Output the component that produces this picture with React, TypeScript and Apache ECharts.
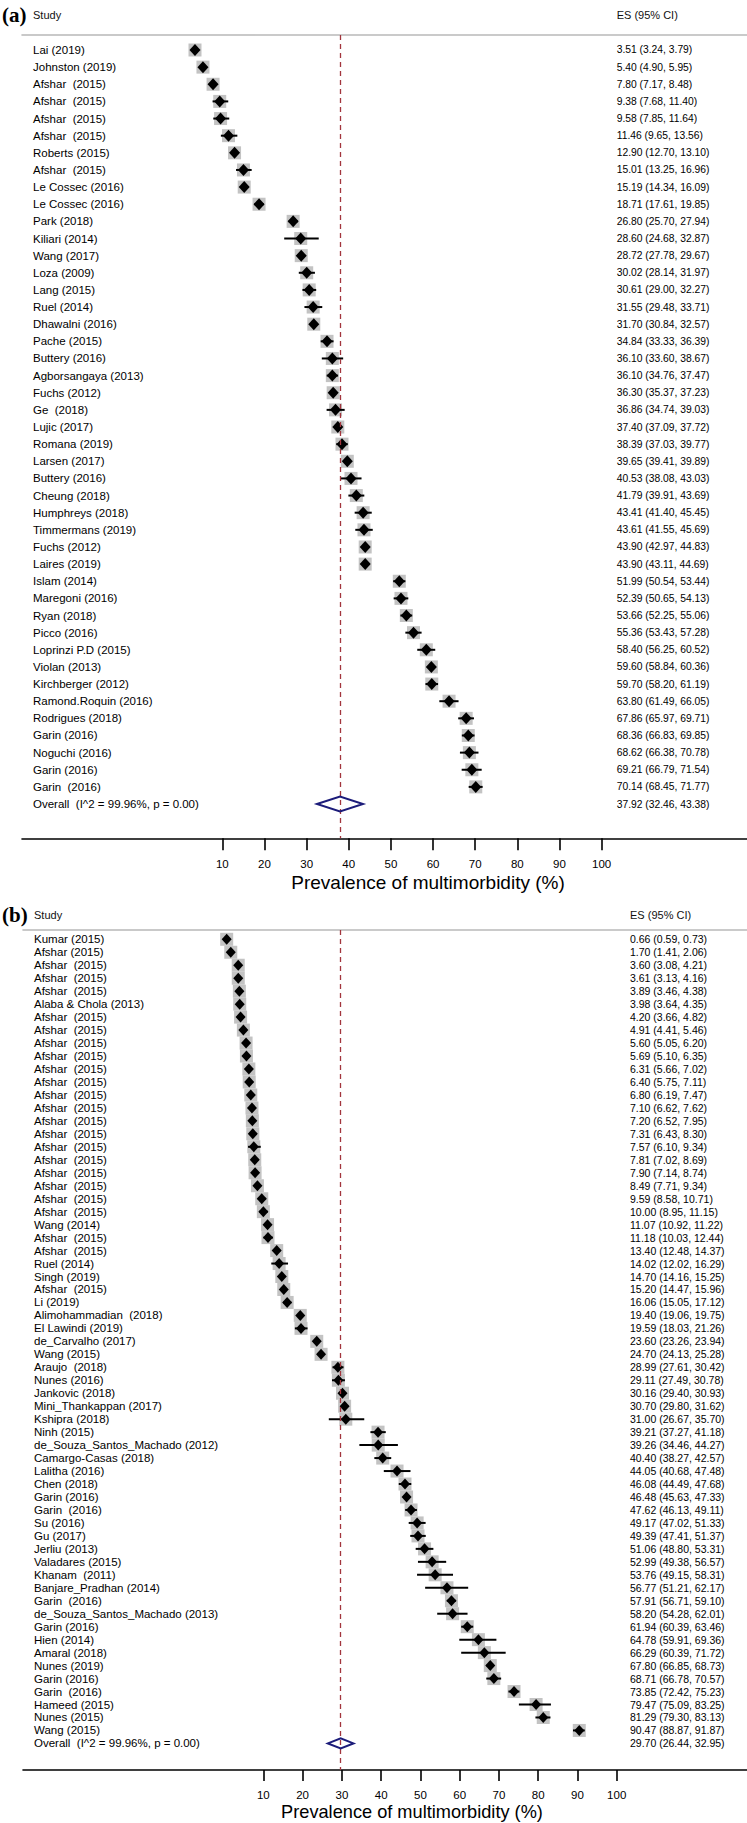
import React, { useEffect, useRef } from "react";
import * as echarts from "echarts";

// ---------- Panel (a) data ----------
const studiesA = [
  "Lai (2019)", "Johnston (2019)", "Afshar  (2015)", "Afshar  (2015)", "Afshar  (2015)", "Afshar  (2015)",
  "Roberts (2015)", "Afshar  (2015)", "Le Cossec (2016)", "Le Cossec (2016)", "Park (2018)", "Kiliari (2014)",
  "Wang (2017)", "Loza (2009)", "Lang (2015)", "Ruel (2014)", "Dhawalni (2016)", "Pache (2015)",
  "Buttery (2016)", "Agborsangaya (2013)", "Fuchs (2012)", "Ge  (2018)", "Lujic (2017)", "Romana (2019)",
  "Larsen (2017)", "Buttery (2016)", "Cheung (2018)", "Humphreys (2018)", "Timmermans (2019)", "Fuchs (2012)",
  "Laires (2019)", "Islam (2014)", "Maregoni (2016)", "Ryan (2018)", "Picco (2016)", "Loprinzi P.D (2015)",
  "Violan (2013)", "Kirchberger (2012)", "Ramond.Roquin (2016)", "Rodrigues (2018)", "Garin (2016)",
  "Noguchi (2016)", "Garin (2016)", "Garin  (2016)",
];
const esA = [3.51, 5.40, 7.80, 9.38, 9.58, 11.46, 12.90, 15.01, 15.19, 18.71, 26.80, 28.60, 28.72, 30.02, 30.61,
  31.55, 31.70, 34.84, 36.10, 36.10, 36.30, 36.86, 37.40, 38.39, 39.65, 40.53, 41.79, 43.41, 43.61, 43.90, 43.90,
  51.99, 52.39, 53.66, 55.36, 58.40, 59.60, 59.70, 63.80, 67.86, 68.36, 68.62, 69.21, 70.14];
const loA = [3.24, 4.90, 7.17, 7.68, 7.85, 9.65, 12.70, 13.25, 14.34, 17.61, 25.70, 24.68, 27.78, 28.14, 29.00,
  29.48, 30.84, 33.33, 33.60, 34.76, 35.37, 34.74, 37.09, 37.03, 39.41, 38.08, 39.91, 41.40, 41.55, 42.97, 43.11,
  50.54, 50.65, 52.25, 53.43, 56.25, 58.84, 58.20, 61.49, 65.97, 66.83, 66.38, 66.79, 68.45];
const hiA = [3.79, 5.95, 8.48, 11.40, 11.64, 13.56, 13.10, 16.96, 16.09, 19.85, 27.94, 32.87, 29.67, 31.97, 32.27,
  33.71, 32.57, 36.39, 38.67, 37.47, 37.23, 39.03, 37.72, 39.77, 39.89, 43.03, 43.69, 45.45, 45.69, 44.83, 44.69,
  53.44, 54.13, 55.06, 57.28, 60.52, 60.36, 61.19, 66.05, 69.71, 69.85, 70.78, 71.54, 71.77];
const overallA = [37.92, 32.46, 43.38];
const overallLabelA = "Overall  (I^2 = 99.96%, p = 0.00)";

// ---------- Panel (b) data ----------
const studiesB = [
  "Kumar (2015)", "Afshar (2015)", "Afshar  (2015)", "Afshar  (2015)", "Afshar  (2015)", "Alaba & Chola (2013)",
  "Afshar  (2015)", "Afshar  (2015)", "Afshar  (2015)", "Afshar  (2015)", "Afshar  (2015)", "Afshar  (2015)",
  "Afshar  (2015)", "Afshar  (2015)", "Afshar  (2015)", "Afshar  (2015)", "Afshar  (2015)", "Afshar  (2015)",
  "Afshar  (2015)", "Afshar  (2015)", "Afshar  (2015)", "Afshar  (2015)", "Wang (2014)", "Afshar  (2015)",
  "Afshar  (2015)", "Ruel (2014)", "Singh (2019)", "Afshar  (2015)", "Li (2019)", "Alimohammadian  (2018)",
  "El Lawindi (2019)", "de_Carvalho (2017)", "Wang (2015)", "Araujo  (2018)", "Nunes (2016)", "Jankovic (2018)",
  "Mini_Thankappan (2017)", "Kshipra (2018)", "Ninh (2015)", "de_Souza_Santos_Machado (2012)",
  "Camargo-Casas (2018)", "Lalitha (2016)", "Chen (2018)", "Garin (2016)", "Garin  (2016)", "Su (2016)",
  "Gu (2017)", "Jerliu (2013)", "Valadares (2015)", "Khanam  (2011)", "Banjare_Pradhan (2014)", "Garin  (2016)",
  "de_Souza_Santos_Machado (2013)", "Garin (2016)", "Hien (2014)", "Amaral (2018)", "Nunes (2019)",
  "Garin (2016)", "Garin  (2016)", "Hameed (2015)", "Nunes (2015)", "Wang (2015)",
];
const esB = [0.66, 1.70, 3.60, 3.61, 3.89, 3.98, 4.20, 4.91, 5.60, 5.69, 6.31, 6.40, 6.80, 7.10, 7.20, 7.31, 7.57,
  7.81, 7.90, 8.49, 9.59, 10.00, 11.07, 11.18, 13.40, 14.02, 14.70, 15.20, 16.06, 19.40, 19.59, 23.60, 24.70,
  28.99, 29.11, 30.16, 30.70, 31.00, 39.21, 39.26, 40.40, 44.05, 46.08, 46.48, 47.62, 49.17, 49.39, 51.06, 52.99,
  53.76, 56.77, 57.91, 58.20, 61.94, 64.78, 66.29, 67.80, 68.71, 73.85, 79.47, 81.29, 90.47];
const loB = [0.59, 1.41, 3.08, 3.13, 3.46, 3.64, 3.66, 4.41, 5.05, 5.10, 5.66, 5.75, 6.19, 6.62, 6.52, 6.43, 6.10,
  7.02, 7.14, 7.71, 8.58, 8.95, 10.92, 10.03, 12.48, 12.02, 14.16, 14.47, 15.05, 19.06, 18.03, 23.26, 24.13,
  27.61, 27.49, 29.40, 29.80, 26.67, 37.27, 34.46, 38.27, 40.68, 44.49, 45.63, 46.13, 47.02, 47.41, 48.80, 49.38,
  49.15, 51.21, 56.71, 54.28, 60.39, 59.91, 60.39, 66.85, 66.78, 72.42, 75.09, 79.30, 88.87];
const hiB = [0.73, 2.06, 4.21, 4.16, 4.38, 4.35, 4.82, 5.46, 6.20, 6.35, 7.02, 7.11, 7.47, 7.62, 7.95, 8.30, 9.34,
  8.69, 8.74, 9.34, 10.71, 11.15, 11.22, 12.44, 14.37, 16.29, 15.25, 15.96, 17.12, 19.75, 21.26, 23.94, 25.28,
  30.42, 30.78, 30.93, 31.62, 35.70, 41.18, 44.27, 42.57, 47.48, 47.68, 47.33, 49.11, 51.33, 51.37, 53.31, 56.57,
  58.31, 62.17, 59.10, 62.01, 63.46, 69.36, 71.72, 68.73, 70.57, 75.23, 83.25, 83.13, 91.87];
const overallB = [29.70, 26.44, 32.95];
const overallLabelB = "Overall  (I^2 = 99.96%, p = 0.00)";

const tickValues = [10, 20, 30, 40, 50, 60, 70, 80, 90, 100];
const axisTitle = "Prevalence of multimorbidity (%)";
const headStudy = "Study";
const headES = "ES (95% CI)";

const SANS = "'Liberation Sans', Arial, Helvetica, sans-serif";
const SERIF = "'Liberation Serif', 'Times New Roman', serif";

const fmt = (v: number) => v.toFixed(2);
const esText = (e: number, l: number, h: number) => `${fmt(e)} (${fmt(l)}, ${fmt(h)})`;

type PanelCfg = {
  tag: string; studies: string[]; es: number[]; lo: number[]; hi: number[]; overall: number[]; overallLabel: string;
  left: number; width: number; top: number; height: number;
  xMin: number; xMax: number; yMin: number; yMax: number;
  box: number; dw: number; dh: number; odh: number;
  labelX: number; esX: number; labelFont: number; esFont: number;
  headY: number; tagY: number; tickLen: number; labelMargin: number; titleX: number; titleY: number; titleFont: number;
  gi: number;
};

function buildPanel(c: PanelCfg) {
  const xb = c.gi * 2;
  const rows = c.es.map((e, i) => [e, c.lo[i], c.hi[i], i]);
  const oRow = [[c.overall[0], c.overall[1], c.overall[2], c.studies.length]];
  const grid = { left: c.left, width: c.width, top: c.top, height: c.height };
  const xAxes = [
    {
      type: "value", gridIndex: c.gi, position: "bottom", min: c.xMin, max: c.xMax,
      axisLine: { show: true, onZero: false, lineStyle: { color: "#000", width: 1.6 } },
      axisTick: { show: true, customValues: tickValues, length: c.tickLen, inside: false, lineStyle: { color: "#000", width: 1.6 } },
      axisLabel: { show: true, customValues: tickValues, margin: c.labelMargin, fontSize: 11.5, color: "#000", fontFamily: SANS },
      splitLine: { show: false },
    },
    {
      type: "value", gridIndex: c.gi, position: "top", min: c.xMin, max: c.xMax,
      axisLine: { show: true, onZero: false, lineStyle: { color: "#b8b8b8", width: 1.6 } },
      axisTick: { show: false }, axisLabel: { show: false }, splitLine: { show: false },
    },
  ];
  const yAxis = {
    type: "value", gridIndex: c.gi, inverse: true, min: c.yMin, max: c.yMax, show: false,
    axisLine: { show: false, onZero: false }, splitLine: { show: false },
  };
  const common = { xAxisIndex: xb, yAxisIndex: c.gi, encode: { x: [0, 1, 2], y: 3 }, silent: true };
  const series: any[] = [
    {
      ...common, type: "custom", z: 2, data: rows,
      renderItem: (p: any, api: any) => {
        const [x, y] = api.coord([api.value(0), api.value(3)]);
        return { type: "rect", shape: { x: x - c.box / 2, y: y - c.box / 2, width: c.box, height: c.box }, style: { fill: "#c3c3c3" } };
      },
    },
    {
      ...common, type: "custom", z: 4, data: rows,
      renderItem: (p: any, api: any) => {
        const [x, y] = api.coord([api.value(0), api.value(3)]);
        const xl = api.coord([api.value(1), api.value(3)])[0];
        const xh = api.coord([api.value(2), api.value(3)])[0];
        return {
          type: "group", children: [
            { type: "line", shape: { x1: xl, y1: y, x2: xh, y2: y }, style: { stroke: "#000", lineWidth: 2 } },
            { type: "polygon", shape: { points: [[x - c.dw / 2, y], [x, y - c.dh / 2], [x + c.dw / 2, y], [x, y + c.dh / 2]] }, style: { fill: "#000" } },
          ],
        };
      },
    },
    {
      ...common, type: "custom", z: 5, data: rows,
      renderItem: (p: any, api: any) => {
        const i = p.dataIndex;
        const y = api.coord([0, api.value(3)])[1];
        return {
          type: "group", children: [
            { type: "text", x: c.labelX, y, style: { text: c.studies[i], fontSize: c.labelFont, fontFamily: SANS, fill: "#000", align: "left", verticalAlign: "middle" } },
            { type: "text", x: c.esX, y, style: { text: esText(api.value(0), api.value(1), api.value(2)), fontSize: c.esFont, fontFamily: SANS, fill: "#000", align: "left", verticalAlign: "middle" } },
          ],
        };
      },
    },
    {
      ...common, type: "custom", z: 6, data: oRow,
      renderItem: (p: any, api: any) => {
        const [x, y] = api.coord([api.value(0), api.value(3)]);
        const xl = api.coord([api.value(1), api.value(3)])[0];
        const xh = api.coord([api.value(2), api.value(3)])[0];
        return {
          type: "group", children: [
            { type: "polygon", shape: { points: [[xl, y], [x, y - c.odh / 2], [xh, y], [x, y + c.odh / 2]] }, style: { fill: "rgba(255,255,255,0)", stroke: "#1c1c7a", lineWidth: 2 } },
            { type: "text", x: c.labelX, y, style: { text: c.overallLabel, fontSize: c.labelFont, fontFamily: SANS, fill: "#000", align: "left", verticalAlign: "middle" } },
            { type: "text", x: c.esX, y, style: { text: esText(api.value(0), api.value(1), api.value(2)), fontSize: c.esFont, fontFamily: SANS, fill: "#000", align: "left", verticalAlign: "middle" } },
          ],
        };
      },
    },
    {
      type: "scatter", xAxisIndex: xb, yAxisIndex: c.gi, symbolSize: 0, silent: true, z: 3,
      data: [[c.overall[0], c.studies.length]],
      markLine: {
        silent: true, symbol: ["none", "none"], animation: false, label: { show: false },
        lineStyle: { color: "#a3353d", width: 1.3, type: [5, 4] },
        data: [{ xAxis: c.overall[0] }],
      },
    },
  ];
  const graphics = [
    { type: "text", left: 2, top: c.tagY, style: { text: c.tag, fontSize: 21, fontWeight: "bold", fontFamily: SERIF, fill: "#000" } },
    { type: "text", x: c.labelX, y: c.headY, style: { text: headStudy, fontSize: 11, fontFamily: SANS, fill: "#111", verticalAlign: "middle" } },
    { type: "text", x: c.esX, y: c.headY, style: { text: headES, fontSize: 11, fontFamily: SANS, fill: "#111", verticalAlign: "middle" } },
    { type: "text", x: c.titleX, y: c.titleY, style: { text: axisTitle, fontSize: c.titleFont, fontFamily: SANS, fill: "#000", align: "center", verticalAlign: "middle" } },
  ];
  return { grid, xAxes, yAxis, series, graphics };
}

const panelA = buildPanel({
  tag: "(a)", studies: studiesA, es: esA, lo: loA, hi: hiA, overall: overallA, overallLabel: overallLabelA,
  left: 22, width: 725, top: 35, height: 803.3, xMin: -37.54, xMax: 134.5, yMin: -0.875, yMax: 46.0,
  box: 13, dw: 11, dh: 12, odh: 15, labelX: 33, esX: 616.7, labelFont: 11.5, esFont: 10.3,
  headY: 15, tagY: 4, tickLen: 12, labelMargin: 20, titleX: 428, titleY: 882, titleFont: 19, gi: 0,
});
const panelB = buildPanel({
  tag: "(b)", studies: studiesB, es: esB, lo: loB, hi: hiB, overall: overallB, overallLabel: overallLabelB,
  left: 23, width: 724, top: 930, height: 840, xMin: -51.22, xMax: 133.19, yMin: -0.717, yMax: 64.05,
  box: 13, dw: 10, dh: 11, odh: 10, labelX: 34, esX: 630, labelFont: 11.5, esFont: 10.5,
  headY: 915, tagY: 904, tickLen: 11, labelMargin: 18.5, titleX: 412, titleY: 1812, titleFont: 18.2, gi: 1,
});

export default function App() {
  const ref = useRef<HTMLDivElement>(null);
  useEffect(() => {
    document.body.style.margin = "0";
    if (!ref.current) return;
    const chart = echarts.init(ref.current, null, { renderer: "svg" });
    chart.setOption({
      animation: false,
      backgroundColor: "#fff",
      grid: [panelA.grid, panelB.grid],
      xAxis: [...panelA.xAxes, ...panelB.xAxes],
      yAxis: [panelA.yAxis, panelB.yAxis],
      series: [...panelA.series, ...panelB.series],
      graphic: [...panelA.graphics, ...panelB.graphics],
    });
    return () => chart.dispose();
  }, []);
  return <div ref={ref} style={{ position: "absolute", left: 0, top: 0, width: 747, height: 1823 }} />;
}
